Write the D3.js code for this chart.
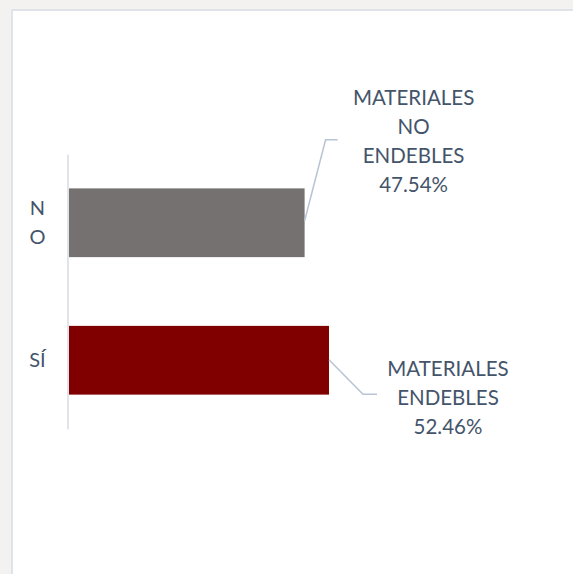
<!DOCTYPE html>
<html><head><meta charset="utf-8">
<script src="https://cdn.jsdelivr.net/npm/d3@7"></script>
<style>
html,body{margin:0;padding:0;background:#f3f2f0;}
svg{display:block;}
text{font-family:Lato,"Open Sans",sans-serif;fill:#44546a;}
</style></head><body>
<svg id="c" width="573" height="574"></svg>
<script>
const categories = ["NO", "SÍ"];
const categoryLines = [["N", "O"], ["SÍ"]];
const values = [47.54, 52.46];
const labelLines = [["MATERIALES", "NO", "ENDEBLES"], ["MATERIALES", "ENDEBLES"]];
const colors = ["#767171", "#800000"];

const svg = d3.select("#c");
// frame
svg.append("rect").attr("x", 12).attr("y", 10).attr("width", 600).attr("height", 600)
  .attr("fill", "#ffffff").attr("stroke", "#dfe3ea").attr("stroke-width", 2);

const x = d3.scaleLinear().domain([0, 100]).range([69, 564.6]);
const y = d3.scaleBand().domain(categories).range([154, 429]).paddingInner(0.5).paddingOuter(0.25);

// bars
svg.selectAll("rect.bar").data(categories).join("rect").attr("class", "bar")
  .attr("x", x(0)).attr("y", d => y(d))
  .attr("width", (d, i) => x(values[i]) - x(0))
  .attr("height", y.bandwidth())
  .attr("fill", (d, i) => colors[i]);

// axis
const ax = svg.append("g").attr("transform", "translate(67.5,0)")
  .call(d3.axisLeft(y).tickSize(0).tickFormat(""));
ax.select(".domain").attr("stroke", "#e1e5eb").attr("stroke-width", 2);

// category labels
categories.forEach((c, i) => {
  const lines = categoryLines[i];
  const cy = y(c) + y.bandwidth() / 2;
  const lh = 29;
  const t = svg.append("text").attr("text-anchor", "middle").attr("font-size", 20);
  lines.forEach((l, j) => {
    t.append("tspan").attr("x", 37.5)
      .attr("y", cy + 7 + (j - (lines.length - 1) / 2) * lh).text(l);
  });
});

// data labels with leader lines
const fmt = v => v.toFixed(2) + "%";
// NO label
{
  const i = 0, c = categories[i];
  const bx = x(values[i]), by = y(c) + y.bandwidth() / 2 - 2;
  svg.append("path").attr("d", `M${bx},${by} L${bx + 21},${by - 81} L${bx + 33},${by - 81}`)
    .attr("fill", "none").attr("stroke", "#b7c4d6").attr("stroke-width", 1.5);
  const t = svg.append("text").attr("text-anchor", "middle").attr("font-size", 20.5);
  const lines = labelLines[i].concat([fmt(values[i])]);
  lines.forEach((l, j) => t.append("tspan").attr("x", bx + 109).attr("y", 104.5 + j * 29.3).text(l));
}
// SÍ label
{
  const i = 1, c = categories[i];
  const bx = x(values[i]), by = y(c) + y.bandwidth() / 2 - 0.5;
  svg.append("path").attr("d", `M${bx},${by} L${bx + 34},${by + 34.5} L${bx + 48},${by + 34.5}`)
    .attr("fill", "none").attr("stroke", "#b7c4d6").attr("stroke-width", 1.5);
  const t = svg.append("text").attr("text-anchor", "middle").attr("font-size", 20.5);
  const lines = labelLines[i].concat([fmt(values[i])]);
  lines.forEach((l, j) => t.append("tspan").attr("x", bx + 119).attr("y", 375.5 + j * 29).text(l));
}
</script>
</body></html>
